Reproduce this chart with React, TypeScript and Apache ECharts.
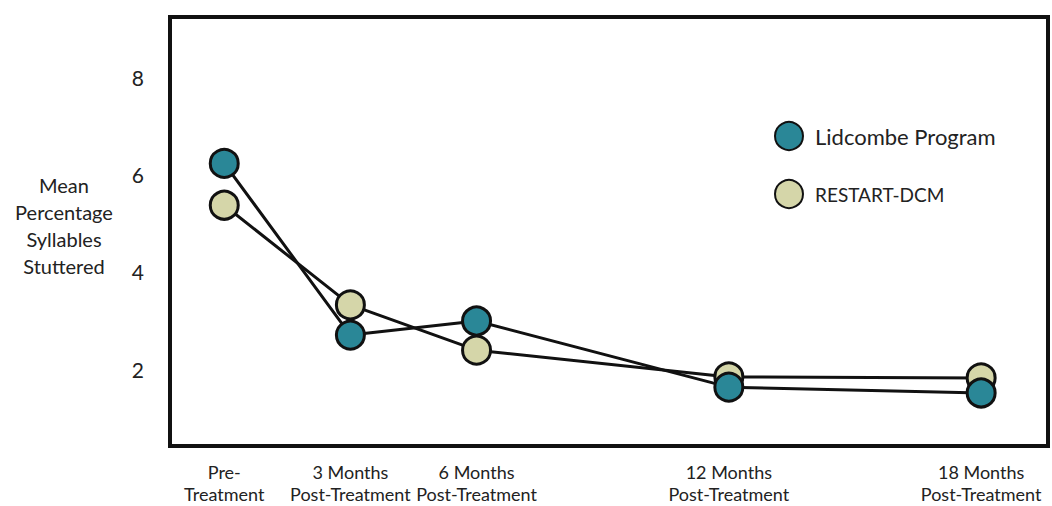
import React, { useEffect, useRef } from "react";
import * as echarts from "echarts";

const months = [0, 3, 6, 12, 18];
const categoryLabels = ["Pre-\nTreatment", "3 Months\nPost-Treatment", "6 Months\nPost-Treatment", "12 Months\nPost-Treatment", "18 Months\nPost-Treatment"];
const lidcombe = [6.23, 2.7, 2.99, 1.63, 1.51];
const restart = [5.37, 3.32, 2.39, 1.84, 1.82];
const yTicks = [2, 4, 6, 8];

const FONT = "Lato, 'Open Sans', sans-serif";

export default function App() {
  const ref = useRef<HTMLDivElement>(null);
  useEffect(() => {
    if (!ref.current) return;
    const chart = echarts.init(ref.current, undefined, { renderer: "svg" });
    const pair = (vals: number[]) => months.map((m, i) => [m, vals[i]]);
    chart.setOption({
      animation: false,
      backgroundColor: "#fff",
      grid: {
        left: 170,
        right: 4,
        top: 17,
        bottom: 60,
        show: true,
        borderColor: "#111",
        borderWidth: 4,
        backgroundColor: "transparent",
        containLabel: false,
        outerBoundsMode: "none",
      },
      legend: {
        orient: "vertical",
        left: 769,
        top: 116,
        itemWidth: 28,
        itemHeight: 28,
        itemGap: 28,
        icon: "circle",
        data: ["Lidcombe Program", "RESTART-DCM"],
        formatter: (name: string) => (name === "RESTART-DCM" ? "{s|" + name + "}" : "{l|" + name + "}"),
        textStyle: {
          fontFamily: FONT,
          color: "#222",
          padding: [0, 0, 0, 7],
          rich: {
            l: { fontFamily: FONT, fontSize: 22, color: "#222" },
            s: { fontFamily: FONT, fontSize: 19, color: "#222" },
          },
        },
      },
      xAxis: {
        type: "value",
        min: -1.29,
        max: 19.59,
        axisLine: { show: false },
        axisTick: { show: false },
        splitLine: { show: false },
        axisLabel: {
          customValues: months,
          formatter: (v: number) => {
            const i = months.indexOf(v);
            return i >= 0 ? categoryLabels[i] : "";
          },
          fontFamily: FONT,
          fontSize: 18,
          lineHeight: 22,
          color: "#222",
          margin: 15,
        },
      },
      yAxis: {
        type: "value",
        min: 0.42,
        max: 9.24,
        name: "{t|Mean}\n{t|Percentage}\n{t|Syllables}\n{t|Stuttered}\n{g|}",
        nameLocation: "middle",
        nameRotate: 0,
        nameGap: 106,
        nameTextStyle: {
          fontFamily: FONT,
          fontSize: 20,
          color: "#222",
          align: "center",
          rich: {
            t: { fontFamily: FONT, fontSize: 20, lineHeight: 27, color: "#222", align: "center" },
            g: { fontSize: 1, lineHeight: 12 },
          },
        },
        axisLine: { show: false },
        axisTick: { show: false },
        splitLine: { show: false },
        axisLabel: {
          customValues: yTicks,
          fontFamily: FONT,
          fontSize: 21,
          color: "#222",
          margin: 26,
        },
      },
      series: [
        {
          name: "RESTART-DCM",
          type: "line",
          data: pair(restart),
          symbol: "circle",
          symbolSize: 28,
          lineStyle: { color: "#111", width: 3 },
          itemStyle: { color: "#D5D6A9", borderColor: "#111", borderWidth: 3 },
          z: 2,
        },
        {
          name: "Lidcombe Program",
          type: "line",
          data: pair(lidcombe),
          symbol: "circle",
          symbolSize: 28,
          lineStyle: { color: "#111", width: 3 },
          itemStyle: { color: "#2A8797", borderColor: "#111", borderWidth: 3 },
          z: 3,
        },
      ],
    });
    return () => chart.dispose();
  }, []);
  return <div ref={ref} style={{ position: "fixed", left: 0, top: 0, width: 1052, height: 506 }} />;
}
